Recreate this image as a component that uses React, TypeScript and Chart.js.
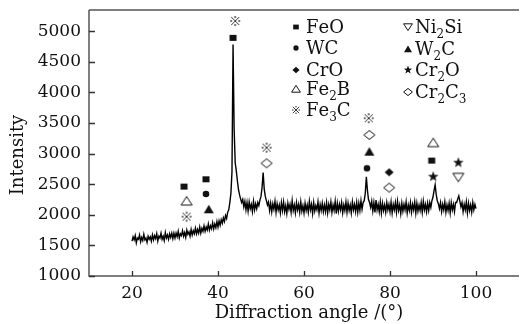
import React, { useEffect, useRef } from "react";
import { Chart, registerables } from "chart.js";
Chart.register(...registerables);

// ---- data ----
const ANGLE_START = 20;
const ANGLE_STEP = 0.25;
const INTENSITY = [
  1570, 1640, 1590, 1660, 1540, 1620, 1600, 1670, 1560, 1630, 1580, 1680, 1590, 1620, 1550, 1650, 1600, 1640, 1570, 1670,
  1590, 1660, 1610, 1690, 1570, 1650, 1620, 1700, 1600, 1650, 1580, 1710, 1620, 1670, 1600, 1690, 1630, 1700, 1610, 1700,
  1620, 1700, 1640, 1730, 1620, 1690, 1660, 1740, 1650, 1710, 1630, 1750, 1680, 1720, 1650, 1760, 1670, 1740, 1690, 1780,
  1690, 1760, 1700, 1800, 1700, 1780, 1730, 1820, 1730, 1800, 1750, 1850, 1750, 1820, 1770, 1870, 1770, 1850, 1790, 1890,
  1800, 1900, 1830, 1920, 1860, 1950, 1890, 1990, 1940, 2040, 2080, 2200, 2350, 2700, 4780, 3400, 2850, 2720, 2560, 2420,
  2330, 2260, 2200, 2250, 2130, 2220, 2080, 2200, 2060, 2210, 2100, 2170, 2050, 2220, 2080, 2180, 2100, 2200, 2150, 2240,
  2300, 2450, 2690, 2420, 2300, 2230, 2160, 2210, 2070, 2190, 2050, 2180, 2090, 2220, 2040, 2180, 2080, 2160, 2030, 2200,
  2070, 2210, 2050, 2150, 2020, 2190, 2090, 2170, 2040, 2230, 2070, 2160, 2030, 2200, 2080, 2170, 2040, 2210, 2060, 2150,
  2030, 2190, 2070, 2160, 2040, 2220, 2080, 2170, 2020, 2200, 2060, 2150, 2080, 2210, 2030, 2170, 2070, 2190, 2050, 2160,
  2050, 2200, 2030, 2170, 2080, 2210, 2040, 2160, 2070, 2220, 2020, 2190, 2060, 2170, 2080, 2200, 2030, 2160, 2070, 2210,
  2040, 2190, 2070, 2160, 2030, 2210, 2080, 2170, 2050, 2200, 2040, 2190, 2070, 2230, 2090, 2200, 2230, 2350, 2620, 2400,
  2250, 2200, 2120, 2220, 2060, 2200, 2040, 2240, 2080, 2170, 2050, 2210, 2030, 2190, 2070, 2160, 2040, 2200, 2080, 2170,
  2050, 2210, 2030, 2170, 2080, 2200, 2040, 2220, 2070, 2160, 2020, 2190, 2060, 2170, 2080, 2210, 2030, 2160, 2070, 2200,
  2040, 2170, 2080, 2210, 2030, 2190, 2060, 2160, 2070, 2200, 2040, 2220, 2080, 2170, 2050, 2190, 2070, 2200, 2120, 2230,
  2290, 2400, 2490, 2330, 2230, 2180, 2100, 2200, 2050, 2170, 2080, 2210, 2040, 2160, 2070, 2190, 2030, 2200, 2080, 2170,
  2050, 2200, 2200, 2260, 2310, 2220, 2130, 2200, 2050, 2170, 2080, 2210, 2030, 2190, 2070, 2160, 2040, 2200, 2080, 2170,
  2100,
];
const X_TICKS = [20, 40, 60, 80, 100];
const Y_TICKS = [1000, 1500, 2000, 2500, 3000, 3500, 4000, 4500, 5000];

const PHASES = ["FeO", "WC", "CrO", "Fe_2B", "Fe_3C", "Ni_2Si", "W_2C", "Cr_2O", "Cr_2C_3"];
const MARKERS = ["square", "circle", "diamond", "triUp", "refmark", "triDown", "triUpFill", "star", "diamondOpen"];
const FEO_PEAKS = [[32.1, 2460], [37.2, 2580], [43.5, 4890], [89.7, 2885]];
const WC_PEAKS = [[37.2, 2340], [74.65, 2760]];
const CRO_PEAKS = [[79.8, 2694]];
const FE2B_PEAKS = [[32.7, 2225], [90.05, 3178]];
const FE3C_PEAKS = [[32.7, 1969], [44.0, 5165], [51.3, 3096], [75.05, 3577]];
const NI2SI_PEAKS = [[95.9, 2613]];
const W2C_PEAKS = [[37.85, 2090], [75.2, 3031]];
const CR2O_PEAKS = [[90.05, 2623], [95.9, 2851]];
const CR2C3_PEAKS = [[51.3, 2841], [75.2, 3304], [79.8, 2443]];
const PHASE_PEAKS = [FEO_PEAKS, WC_PEAKS, CRO_PEAKS, FE2B_PEAKS, FE3C_PEAKS, NI2SI_PEAKS, W2C_PEAKS, CR2O_PEAKS, CR2C3_PEAKS];

const X_TITLE = "Diffraction angle /(°)";
const Y_TITLE = "Intensity";

// ---- drawing helpers ----
const INK = "#111";
const SERIF = "'DejaVu Serif', serif";

function drawMarker(ctx: CanvasRenderingContext2D, kind: string, cx: number, cy: number, s: number) {
  ctx.save();
  ctx.fillStyle = INK;
  ctx.strokeStyle = INK;
  ctx.lineWidth = 1;
  ctx.beginPath();
  switch (kind) {
    case "square":
      ctx.fillRect(cx - 3.5 * s, cy - 3 * s, 7 * s, 6 * s);
      break;
    case "circle":
      ctx.arc(cx, cy, 3.3 * s, 0, Math.PI * 2);
      ctx.fill();
      break;
    case "diamond":
      ctx.moveTo(cx, cy - 4 * s);
      ctx.lineTo(cx + 4.5 * s, cy);
      ctx.lineTo(cx, cy + 4 * s);
      ctx.lineTo(cx - 4.5 * s, cy);
      ctx.closePath();
      ctx.fill();
      break;
    case "diamondOpen":
      ctx.moveTo(cx, cy - 4.5 * s);
      ctx.lineTo(cx + 5.5 * s, cy);
      ctx.lineTo(cx, cy + 4.5 * s);
      ctx.lineTo(cx - 5.5 * s, cy);
      ctx.closePath();
      ctx.stroke();
      break;
    case "triUp":
      ctx.moveTo(cx, cy - 4.5 * s);
      ctx.lineTo(cx + 5.5 * s, cy + 4 * s);
      ctx.lineTo(cx - 5.5 * s, cy + 4 * s);
      ctx.closePath();
      ctx.stroke();
      break;
    case "triUpFill":
      ctx.moveTo(cx, cy - 4.5 * s);
      ctx.lineTo(cx + 5 * s, cy + 4 * s);
      ctx.lineTo(cx - 5 * s, cy + 4 * s);
      ctx.closePath();
      ctx.fill();
      break;
    case "triDown":
      ctx.moveTo(cx - 5.5 * s, cy - 4 * s);
      ctx.lineTo(cx + 5.5 * s, cy - 4 * s);
      ctx.lineTo(cx, cy + 4.5 * s);
      ctx.closePath();
      ctx.stroke();
      break;
    case "star": {
      const ro = 5.5 * s, ri = 2.3 * s;
      for (let i = 0; i < 10; i++) {
        const r = i % 2 === 0 ? ro : ri;
        const a = -Math.PI / 2 + (i * Math.PI) / 5;
        const px = cx + r * Math.cos(a), py = cy + r * Math.sin(a);
        if (i === 0) ctx.moveTo(px, py); else ctx.lineTo(px, py);
      }
      ctx.closePath();
      ctx.fill();
      break;
    }
    case "refmark": {
      const d = 4 * s;
      ctx.strokeStyle = "#333";
      ctx.lineWidth = 1;
      ctx.moveTo(cx - d, cy - d);
      ctx.lineTo(cx + d, cy + d);
      ctx.moveTo(cx + d, cy - d);
      ctx.lineTo(cx - d, cy + d);
      ctx.stroke();
      ctx.fillStyle = "#333";
      const r = 0.9 * s;
      for (const [dx, dy] of [[0, -d], [0, d], [-d, 0], [d, 0]]) {
        ctx.beginPath();
        ctx.arc(cx + dx, cy + dy, r, 0, Math.PI * 2);
        ctx.fill();
      }
      break;
    }
  }
  ctx.restore();
}

function markerCanvas(kind: string) {
  const c = document.createElement("canvas");
  c.width = 16;
  c.height = 16;
  const ctx = c.getContext("2d")!;
  drawMarker(ctx, kind, 8, 8, 1);
  return c;
}

function drawSubText(ctx: CanvasRenderingContext2D, label: string, x: number, y: number, size: number) {
  let cx = x;
  ctx.textBaseline = "alphabetic";
  ctx.textAlign = "left";
  for (let i = 0; i < label.length; i++) {
    const ch = label[i];
    if (ch === "_") {
      const sub = label[i + 1];
      ctx.font = `${Math.round(size * 0.65)}px ${SERIF}`;
      ctx.fillText(sub, cx, y + 5);
      cx += ctx.measureText(sub).width;
      i++;
    } else {
      ctx.font = `${size}px ${SERIF}`;
      ctx.fillText(ch, cx, y);
      cx += ctx.measureText(ch).width;
    }
  }
}

const LEGEND_POS = [
  [296, 306, 33], [296, 306, 54], [296, 306, 76], [296, 306, 95], [296, 306, 116],
  [408, 415, 33], [408, 415, 55], [408, 415, 76], [408, 415, 98],
];

const decorPlugin = {
  id: "decor",
  afterDraw(chart: any) {
    const ctx: CanvasRenderingContext2D = chart.ctx;
    const { left, right, top, bottom } = chart.chartArea;
    const xs = chart.scales.x, ys = chart.scales.y;
    ctx.save();
    ctx.strokeStyle = "#555";
    ctx.lineWidth = 1.5;
    ctx.beginPath();
    ctx.moveTo(left, top);
    ctx.lineTo(right, top);
    ctx.moveTo(left, top);
    ctx.lineTo(left, bottom);
    ctx.lineTo(right, bottom);
    ctx.stroke();
    ctx.strokeStyle = "#333";
    ctx.lineWidth = 1.3;
    ctx.beginPath();
    for (const v of Y_TICKS) {
      const py = Math.round(ys.getPixelForValue(v)) + 0.5;
      ctx.moveTo(left, py);
      ctx.lineTo(left + 6, py);
    }
    for (const v of X_TICKS) {
      const px = Math.round(xs.getPixelForValue(v)) + 0.5;
      ctx.moveTo(px, bottom);
      ctx.lineTo(px, bottom - 5);
    }
    ctx.stroke();

    // titles
    ctx.fillStyle = INK;
    ctx.font = `18px ${SERIF}`;
    ctx.textAlign = "center";
    ctx.textBaseline = "middle";
    ctx.fillText(X_TITLE, 309, 313);
    ctx.save();
    ctx.translate(18, 155);
    ctx.rotate(-Math.PI / 2);
    ctx.fillText(Y_TITLE, 0, 0);
    ctx.restore();

    // legend
    PHASES.forEach((name, i) => {
      const [mx, tx, by] = LEGEND_POS[i];
      drawMarker(ctx, MARKERS[i], mx, by - 6, 0.8);
      ctx.fillStyle = INK;
      drawSubText(ctx, name, tx, by, 18);
    });
    ctx.restore();
  },
};

export default function App() {
  const ref = useRef<HTMLCanvasElement>(null);
  useEffect(() => {
    document.body.style.margin = "0";
    const line = INTENSITY.map((y, i) => ({ x: ANGLE_START + i * ANGLE_STEP, y }));
    const markerSets = PHASE_PEAKS.map((pts, i) => ({
      type: "scatter" as const,
      label: PHASES[i],
      data: pts.map(([x, y]) => ({ x, y })),
      pointStyle: markerCanvas(MARKERS[i]),
      showLine: false,
    }));
    const chart = new Chart(ref.current!, {
      type: "scatter",
      data: {
        datasets: [
          {
            label: "XRD",
            data: line,
            showLine: true,
            borderColor: "#000",
            borderWidth: 1.4,
            pointRadius: 0,
            tension: 0,
          } as any,
          ...markerSets,
        ],
      },
      options: {
        animation: false,
        responsive: false,
        events: [],
        layout: { padding: { top: 10, right: 2, left: 0, bottom: 0 } },
        plugins: { legend: { display: false }, tooltip: { enabled: false } },
        scales: {
          x: {
            type: "linear",
            min: 10,
            max: 110,
            grid: { display: false, drawTicks: false },
            border: { display: false },
            afterFit: (s: any) => { s.height = 48; s.paddingLeft = 0; s.paddingRight = 0; },
            afterBuildTicks: (s: any) => { s.ticks = X_TICKS.map((v) => ({ value: v })); },
            ticks: { color: INK, font: { family: SERIF, size: 17 }, padding: 7, maxRotation: 0, callback: (v: any) => String(v) },
          },
          y: {
            type: "linear",
            min: 1000,
            max: 5345,
            grid: { display: false, drawTicks: false },
            border: { display: false },
            afterFit: (s: any) => { s.width = 89; s.paddingTop = 0; s.paddingBottom = 0; },
            afterBuildTicks: (s: any) => { s.ticks = Y_TICKS.map((v) => ({ value: v })); },
            ticks: { color: INK, font: { family: SERIF, size: 17 }, padding: 8, callback: (v: any) => String(v) },
          },
        },
      },
      plugins: [decorPlugin],
    });
    return () => chart.destroy();
  }, []);
  return (
    <div style={{ width: 521, height: 324, overflow: "hidden", background: "#fff" }}>
      <canvas ref={ref} width={524} height={324} style={{ display: "block" }} />
    </div>
  );
}
